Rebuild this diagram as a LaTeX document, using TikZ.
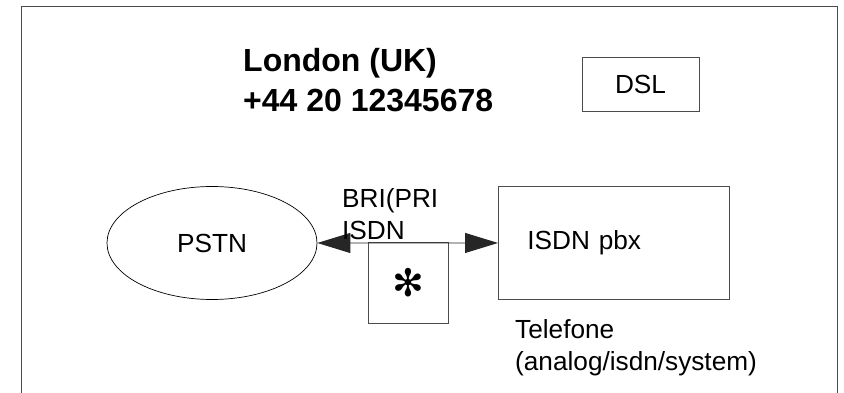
\documentclass[tikz,border=0pt]{standalone}
\usepackage{fontspec}
\setmainfont{Liberation Sans}
\newfontfamily\symfont{DejaVu Sans}
\usetikzlibrary{arrows.meta,shapes.geometric}

\begin{document}
\begin{tikzpicture}[x=1pt,y=-1pt,
  every node/.style={font=\fontsize{26.2}{32}\selectfont,inner sep=0pt},
  box/.style={draw=black!70,line width=0.9pt},
  link/.style={draw=black!85,line width=0.9pt,{Triangle[length=33pt,width=20pt]}-{Triangle[length=33pt,width=20pt]}}]
  \useasboundingbox (0,0) rectangle (844,393);
  % frame, open at the bottom
  \draw[black!70,line width=1pt] (21,393) -- (21,6.5) -- (837,6.5) -- (837,393);
  \node[anchor=base west,align=left,font=\bfseries\fontsize{32}{40}\selectfont] (city) at (243,112) {London (UK)\\+44 20 12345678};
  \node[box,minimum width=117pt,minimum height=54pt] (dsl) at (640.5,84) {DSL};
  \node[ellipse,draw,line width=0.7pt,minimum width=210pt,minimum height=113pt] (pstn) at (212,243) {PSTN};
  \node[box,anchor=north west,minimum width=231pt,minimum height=113pt,align=left,text width=173pt,inner xsep=29pt] (pbx) at (498,186) {ISDN pbx};
  \node[box,minimum width=80pt,minimum height=81pt] (star) at (408,282.5) {\symfont\fontsize{38}{38}\selectfont ✻};
  \draw[link] (pstn) -- (pbx);
  \node[anchor=base west,align=left] (bri) at (342,239) {BRI(PRI\\ISDN};
  \node[anchor=base west,align=left] (tel) at (515,370) {Telefone\\(analog/isdn/system)};
\end{tikzpicture}
\end{document}
